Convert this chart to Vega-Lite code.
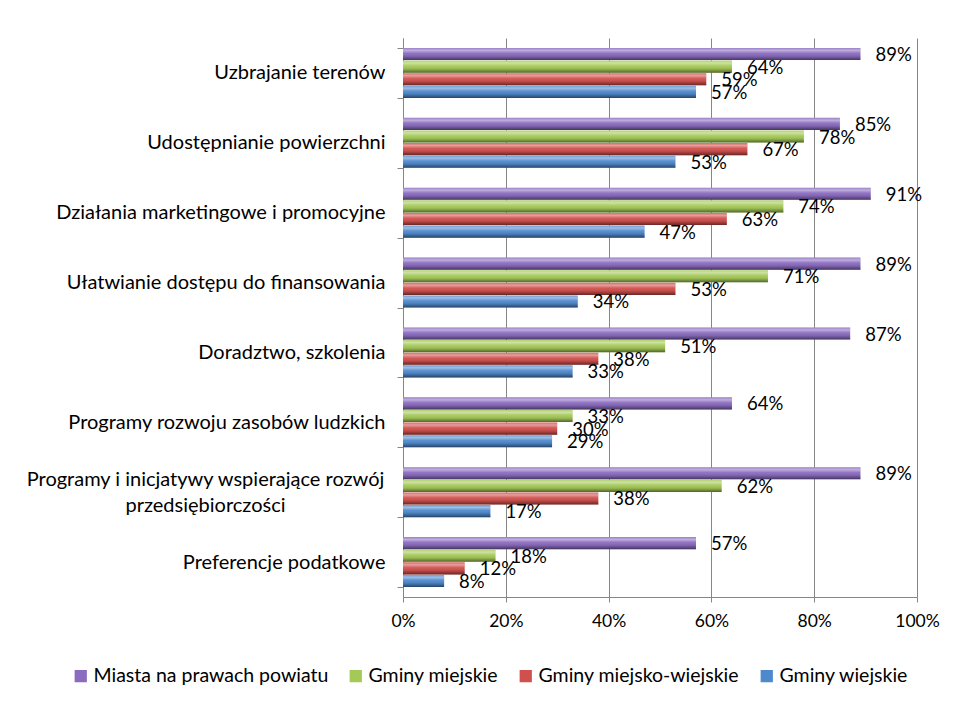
{
  "$schema": "https://vega.github.io/schema/vega-lite/v6.json",
  "autosize": {"type": "none"},
  "width": 514,
  "height": 559,
  "padding": {"left": 403, "top": 38, "right": 39, "bottom": 108},
  "background": "white",
  "config": {
    "font": "Lato",
    "view": {"stroke": null},
    "axis": {"labelColor": "#000000", "labelFontSize": 17, "domainColor": "#868686", "tickColor": "#868686", "gridColor": "#868686", "gridOpacity": 1, "title": null}
  },
  "data": {
    "values": [
      {"category": "Uzbrajanie terenów", "series": "Miasta na prawach powiatu", "value": 0.89},
      {"category": "Uzbrajanie terenów", "series": "Gminy miejskie", "value": 0.64},
      {"category": "Uzbrajanie terenów", "series": "Gminy miejsko-wiejskie", "value": 0.59},
      {"category": "Uzbrajanie terenów", "series": "Gminy wiejskie", "value": 0.57},
      {"category": "Udostępnianie powierzchni", "series": "Miasta na prawach powiatu", "value": 0.85},
      {"category": "Udostępnianie powierzchni", "series": "Gminy miejskie", "value": 0.78},
      {"category": "Udostępnianie powierzchni", "series": "Gminy miejsko-wiejskie", "value": 0.67},
      {"category": "Udostępnianie powierzchni", "series": "Gminy wiejskie", "value": 0.53},
      {"category": "Działania marketingowe i promocyjne", "series": "Miasta na prawach powiatu", "value": 0.91},
      {"category": "Działania marketingowe i promocyjne", "series": "Gminy miejskie", "value": 0.74},
      {"category": "Działania marketingowe i promocyjne", "series": "Gminy miejsko-wiejskie", "value": 0.63},
      {"category": "Działania marketingowe i promocyjne", "series": "Gminy wiejskie", "value": 0.47},
      {"category": "Ułatwianie dostępu do finansowania", "series": "Miasta na prawach powiatu", "value": 0.89},
      {"category": "Ułatwianie dostępu do finansowania", "series": "Gminy miejskie", "value": 0.71},
      {"category": "Ułatwianie dostępu do finansowania", "series": "Gminy miejsko-wiejskie", "value": 0.53},
      {"category": "Ułatwianie dostępu do finansowania", "series": "Gminy wiejskie", "value": 0.34},
      {"category": "Doradztwo, szkolenia", "series": "Miasta na prawach powiatu", "value": 0.87},
      {"category": "Doradztwo, szkolenia", "series": "Gminy miejskie", "value": 0.51},
      {"category": "Doradztwo, szkolenia", "series": "Gminy miejsko-wiejskie", "value": 0.38},
      {"category": "Doradztwo, szkolenia", "series": "Gminy wiejskie", "value": 0.33},
      {"category": "Programy rozwoju zasobów ludzkich", "series": "Miasta na prawach powiatu", "value": 0.64},
      {"category": "Programy rozwoju zasobów ludzkich", "series": "Gminy miejskie", "value": 0.33},
      {"category": "Programy rozwoju zasobów ludzkich", "series": "Gminy miejsko-wiejskie", "value": 0.30},
      {"category": "Programy rozwoju zasobów ludzkich", "series": "Gminy wiejskie", "value": 0.29},
      {"category": "Programy i inicjatywy wspierające rozwój przedsiębiorczości", "series": "Miasta na prawach powiatu", "value": 0.89},
      {"category": "Programy i inicjatywy wspierające rozwój przedsiębiorczości", "series": "Gminy miejskie", "value": 0.62},
      {"category": "Programy i inicjatywy wspierające rozwój przedsiębiorczości", "series": "Gminy miejsko-wiejskie", "value": 0.38},
      {"category": "Programy i inicjatywy wspierające rozwój przedsiębiorczości", "series": "Gminy wiejskie", "value": 0.17},
      {"category": "Preferencje podatkowe", "series": "Miasta na prawach powiatu", "value": 0.57},
      {"category": "Preferencje podatkowe", "series": "Gminy miejskie", "value": 0.18},
      {"category": "Preferencje podatkowe", "series": "Gminy miejsko-wiejskie", "value": 0.12},
      {"category": "Preferencje podatkowe", "series": "Gminy wiejskie", "value": 0.08}
    ]
  },
  "encoding": {
    "y": {
      "field": "category",
      "type": "nominal",
      "sort": ["Uzbrajanie terenów", "Udostępnianie powierzchni", "Działania marketingowe i promocyjne", "Ułatwianie dostępu do finansowania", "Doradztwo, szkolenia", "Programy rozwoju zasobów ludzkich", "Programy i inicjatywy wspierające rozwój przedsiębiorczości", "Preferencje podatkowe"],
      "scale": {"paddingInner": 0.286, "paddingOuter": 0.143},
      "axis": {
        "tickBand": "extent",
        "tickSize": 6,
        "labelFontSize": 20,
        "labelLimit": 400,
        "labelLineHeight": 26,
        "labelExpr": "datum.value == 'Programy i inicjatywy wspierające rozwój przedsiębiorczości' ? ['Programy i inicjatywy wspierające rozwój', 'przedsiębiorczości'] : datum.label",
        "labelAlign": {"condition": {"test": "datum.value == 'Programy i inicjatywy wspierające rozwój przedsiębiorczości'", "value": "center"}, "value": "right"},
        "labelPadding": {"condition": {"test": "datum.value == 'Programy i inicjatywy wspierające rozwój przedsiębiorczości'", "value": 192}, "value": 12},
        "labelOffset": {"condition": {"test": "datum.value == 'Programy i inicjatywy wspierające rozwój przedsiębiorczości'", "value": -13}, "value": 0}
      }
    },
    "yOffset": {
      "field": "series",
      "type": "nominal",
      "sort": ["Miasta na prawach powiatu", "Gminy miejskie", "Gminy miejsko-wiejskie", "Gminy wiejskie"],
      "scale": {"paddingInner": 0.04}
    },
    "x": {
      "field": "value",
      "type": "quantitative",
      "scale": {"domain": [0, 1], "nice": false},
      "axis": {"format": ".0%", "values": [0, 0.2, 0.4, 0.6, 0.8, 1], "grid": true, "tickSize": 5, "labelPadding": 10, "labelFontSize": 17.5, "domain": true, "labelFlush": false}
    }
  },
  "layer": [
    {
      "mark": {"type": "bar"},
      "encoding": {
        "color": {
          "field": "series",
          "type": "nominal",
          "sort": ["Miasta na prawach powiatu", "Gminy miejskie", "Gminy miejsko-wiejskie", "Gminy wiejskie"],
          "scale": {"domain": ["Miasta na prawach powiatu", "Gminy miejskie", "Gminy miejsko-wiejskie", "Gminy wiejskie"], "range": ["#8a6bbf", "#a4c957", "#d0504d", "#4f89cd"]},
          "legend": {
            "title": null,
            "orient": "none",
            "legendX": -332,
            "legendY": 628,
            "direction": "horizontal",
            "columns": 4,
            "columnPadding": 17,
            "symbolType": "square",
            "symbolSize": 150,
            "symbolStrokeWidth": 0,
            "symbolOpacity": 1,
            "labelFontSize": 19.5,
            "labelColor": "#000000",
            "labelOffset": 3,
            "labelLimit": 400
          }
        }
      }
    },
    {
      "mark": {
        "type": "bar",
        "fill": {
          "gradient": "linear", "x1": 0, "y1": 0, "x2": 0, "y2": 1,
          "stops": [
            {"offset": 0, "color": "rgba(255,255,255,0.15)"},
            {"offset": 0.2, "color": "rgba(255,255,255,0.45)"},
            {"offset": 0.45, "color": "rgba(255,255,255,0.05)"},
            {"offset": 0.7, "color": "rgba(0,0,0,0.1)"},
            {"offset": 1, "color": "rgba(0,0,0,0.5)"}
          ]
        }
      },
      "encoding": {}
    },
    {
      "mark": {"type": "text", "align": "left", "baseline": "middle", "dx": 15, "dy": 1, "fontSize": 18.5, "color": "#000000"},
      "encoding": {"text": {"field": "value", "type": "quantitative", "format": ".0%"}}
    }
  ]
}
